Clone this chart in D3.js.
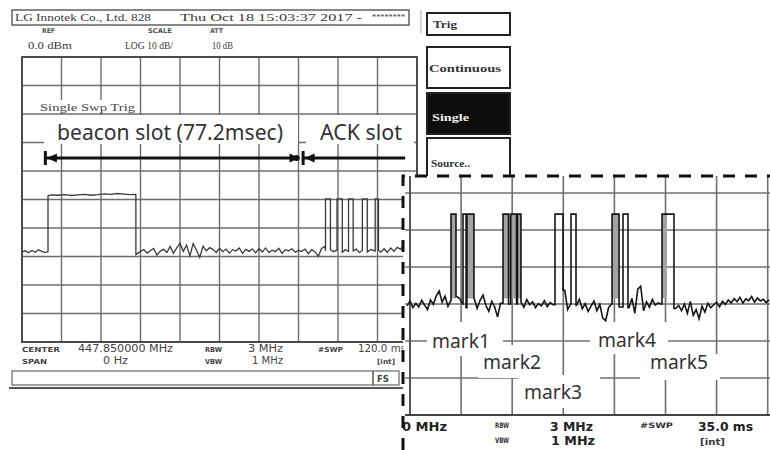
<!DOCTYPE html>
<html><head><meta charset="utf-8">
<script src="https://cdn.jsdelivr.net/npm/d3@7/dist/d3.min.js"></script>
<style>body{margin:0;background:#fff}svg{display:block}</style>
</head><body>
<svg id="c" width="770" height="450"></svg>
<script>
// ---------------- DATA ----------------
const titleTexts = ["LG Innotek Co., Ltd. 828", "Thu Oct 18 15:03:37 2017 -", "********"];
const headerLabels = ["REF", "SCALE", "ATT"];
const headerValues = ["0.0 dBm", "LOG 10 dB/", "10 dB"];
const softKeys = ["Trig", "Continuous", "Single", "Source.."];
const sweepStatus = "Single Swp Trig";
const footerRow1 = ["CENTER", "447.850000 MHz", "RBW", "3 MHz", "#SWP", "120.0 ms"];
const footerRow2 = ["SPAN", "0 Hz", "VBW", "1 MHz", "[int]"];
const statusKey = "FS";
const insetFooterRow1 = ["447.850000 MHz", "RBW", "3 MHz", "#SWP", "35.0 ms"];
const insetFooterRow2 = ["VBW", "1 MHz", "[int]"];
const markLabels = ["mark1", "mark2", "mark3", "mark4", "mark5"];

const mainTimeDomain = [0, 120];     // ms (sweep 120.0 ms)
const levelDomain = [-100, 0];       // dBm, ref 0 dBm, 10 dB/div
const insetTimeDomain = [0, 35];     // ms (sweep 35.0 ms)

const slotLabels = ["beacon slot (77.2msec)", "ACK slot"];
const slotStart = [7.1, 85.4];       // ms
const slotEnd = [84.3, 116.4];       // ms

// main trace [ms, dBm]
const mainTrace = [
 [0,-68.4],[1,-68.0],[2,-68.7],[3,-67.9],[4,-68.5],[5,-67.6],[6,-68.2],[7,-68.6],[7.9,-68.3],
 [7.9,-48.7],[9,-48.4],[11,-48.5],[13,-48.3],[15,-48.6],[17,-48.4],[19,-48.2],[21,-48.5],[23,-48.3],
 [25,-48.0],[27,-48.2],[29,-47.9],[31,-48.1],[33,-48.3],[34.6,-48.2],
 [34.6,-69.3],[35,-69.0],[36,-68.2],[37,-67.6],[38,-68.8],[39,-68.0],[40,-67.2],[41,-69.5],[42,-68.1],
 [43,-67.5],[44,-68.6],[45,-66.5],[46,-68.9],[47,-67.0],[48,-65.4],[49,-68.2],[50,-66.0],[51,-69.8],
 [52,-65.5],[53,-67.8],[54,-70.3],[55,-66.4],[56,-68.0],[57,-66.9],[58,-67.5],[59,-68.6],[60,-67.1],
 [61,-68.3],[62,-67.4],[63,-68.8],[64,-67.6],[65,-68.1],[66,-67.0],[67,-68.9],[68,-67.5],[69,-68.2],
 [70,-67.3],[71,-68.7],[72,-67.2],[73,-68.4],[74,-67.0],[75,-68.6],[76,-67.8],[77,-68.3],[78,-67.1],
 [79,-68.9],[80,-67.6],[81,-68.0],[82,-67.3],[83,-68.5],[84,-67.9],[85,-68.2],[86,-67.4],[87,-69.0],
 [88,-67.6],[89,-68.3],[90,-70.0],[91,-67.2],[92,-66.5],
 [92.2,-68.0],[92.2,-49.8],[93.7,-49.8],[93.7,-67.5],[94.5,-68.3],
 [95.7,-67.8],[95.7,-49.8],[97.3,-49.8],[97.3,-68.5],[98.2,-67.6],
 [99.2,-68.2],[99.2,-49.8],[100.6,-49.8],[100.6,-68.0],[101.5,-67.4],[102.5,-68.6],
 [103.4,-67.9],[103.4,-49.8],[104.9,-49.8],[104.9,-68.4],[106,-67.5],
 [107.3,-68.1],[107.3,-49.8],[108.3,-49.8],[108.3,-67.8],[109,-68.5],[110,-67.3],[111,-68.6],
 [112,-67.0],[113,-68.2],[114,-66.8],[115,-67.5],[116,-65.8],[117,-67.0],[118,-66.2],[119,-67.5],[120,-67.0]
];

// inset trace: noise readings every 0.2 ms, pulses [start ms, end ms]
const insetNoiseStart = -0.2;
const insetNoiseStep = 0.2;
const insetNoise = [
 -70.5,-69.2,-71.0,-69.8,-70.8,-69.0,-70.3,-71.5,-68.9,-70.1,-67.8,-66.5,-69.5,-67.9,-70.6,
 -69.0,-67.5,-68.0,-68.5,-70.0,-69.0,-71.0,-70.0,
 -68.5,-71.2,-69.0,-67.6,-70.4,-72.0,-69.3,-70.8,-73.5,-69.8,
 -70,-70,-70,-70,-70,-70,
 -69.5,-70.9,-68.8,-70.2,-69.4,-71.0,-69.9,-70.5,-69.1,-70.7,-69.6,-70.2,
 -70,-70,
 -69.0,-66.3,-71.5,
 -70,-70,
 -70.4,-68.7,-71.3,-69.9,-72.0,-70.6,-69.2,-71.8,-70.1,-73.8,-74.5,-71.0,
 -70,-70,-69.5,-70.8,-70,-70,
 -71.0,-68.5,-72.5,-66.0,-65.2,-71.8,-69.4,-70.9,-68.8,-70.3,-69.7,
 -70,-70,-70,-70,-70,
 -71.2,-70.4,-71.8,-70.0,-72.5,-69.3,-73.0,-71.5,-74.0,-70.6,-72.2,-69.8,-71.0,-70.2,-69.5,-70.8,
 -69.3,-70.1,-68.9,-69.7,-68.5,-69.4,-68.2,-69.8,-68.6,-69.1,-68.0,-69.5,-68.4,-69.2,-68.7,-69.6,-68.9
];
const insetPulses = [
 [2.81,3.15],[3.63,3.84],[3.90,4.38],
 [6.37,6.75],[6.90,7.30],[7.36,7.60],
 [9.93,10.48],[11.03,11.37],
 [13.84,14.32],[14.59,14.93],
 [17.26,18.08]
];
const insetPulseTop = -45.7;
const insetDenseBands = [[2.81,3.15],[3.90,4.38],[6.37,7.60],[13.84,14.32],[17.26,17.60]];
const insetDenseFloor = -68.5;

// ---------------- DRAW ----------------
const svg = d3.select("#c");
const defs = svg.append("defs");
defs.append("clipPath").attr("id","insetClip").append("rect")
  .attr("x",403).attr("y",176).attr("width",367).attr("height",274);

const xMain = d3.scaleLinear().domain(mainTimeDomain).range([22, 417]);
const yMain = d3.scaleLinear().domain(levelDomain).range([342, 57]);

function txt(g, s, x, y, o = {}) {
  const t = g.append("text").attr("x", x).attr("y", y).text(s)
    .attr("font-family", o.family || "DejaVu Sans")
    .attr("font-size", o.size || 10)
    .attr("font-weight", o.weight || "normal")
    .attr("fill", o.fill || "#3a3a3a");
  if (o.len) t.attr("textLength", o.len).attr("lengthAdjust", "spacingAndGlyphs");
  if (o.anchor) t.attr("text-anchor", o.anchor);
  return t;
}

// ----- main screen -----
const gM = svg.append("g");
gM.append("rect").attr("x",12).attr("y",10).attr("width",397).attr("height",15)
  .attr("fill","none").attr("stroke","#555").attr("stroke-width",1.4);
gM.append("line").attr("x1",421).attr("x2",421).attr("y1",10).attr("y2",33).attr("stroke","#aaa");
txt(gM, titleTexts[0], 15, 21, {size:10, len:136, family:"Liberation Serif"});
txt(gM, titleTexts[1], 180, 21, {size:10, len:182, family:"Liberation Serif"});
txt(gM, titleTexts[2], 372, 20, {size:9, len:33, family:"Liberation Serif"});
[[42,13],[148,24],[210,13]].forEach((p,i)=>txt(gM, headerLabels[i], p[0], 33, {size:6.5, weight:"bold", len:p[1], fill:"#555"}));
[[28,44],[125,48],[212,21]].forEach((p,i)=>txt(gM, headerValues[i], p[0], 49, {size:10, len:p[1], family:"Liberation Serif"}));

// grid
const gridT = d3.range(0, 121, 12), gridL = d3.range(-100, 1, 10);
gM.append("g").selectAll("line").data(gridT).join("line")
  .attr("x1",d=>xMain(d)).attr("x2",d=>xMain(d)).attr("y1",yMain(0)).attr("y2",yMain(-100))
  .attr("stroke","#6e6e6e").attr("stroke-width",1.4);
gM.append("g").selectAll("line").data(gridL).join("line")
  .attr("y1",d=>yMain(d)).attr("y2",d=>yMain(d)).attr("x1",xMain(0)).attr("x2",xMain(120))
  .attr("stroke","#6e6e6e").attr("stroke-width",1.4);
gM.append("rect").attr("x",xMain(0)).attr("y",yMain(0)).attr("width",xMain(120)-xMain(0))
  .attr("height",yMain(-100)-yMain(0)).attr("fill","none").attr("stroke","#444").attr("stroke-width",1.8);

[[38,100,100,12.5],[44,115,254,29],[306,115,108,29]].forEach(b=>
  gM.append("rect").attr("x",b[0]).attr("y",b[1]).attr("width",b[2]).attr("height",b[3]).attr("fill","#fff"));
txt(gM, sweepStatus, 40, 111, {size:10, len:95, family:"Liberation Serif", fill:"#444"});
txt(gM, slotLabels[0], 57, 140, {size:21, family:"Noto Sans", len:226, fill:"#333"});
txt(gM, slotLabels[1], 320, 140, {size:21, family:"Noto Sans", len:82, fill:"#333"});

// slot arrows
const ay = 158;
function arrowHead(g, x, dir) {
  g.append("path").attr("d", `M${x},${ay} L${x+dir*10},${ay-4.5} L${x+dir*10},${ay+4.5} Z`).attr("fill","#111");
}
const gA = gM.append("g");
slotStart.forEach((s,i)=>{
  const x0 = xMain(s), x1 = xMain(slotEnd[i]);
  gA.append("line").attr("x1",x0).attr("x2",x1).attr("y1",ay).attr("y2",ay).attr("stroke","#111").attr("stroke-width",3);
  gA.append("line").attr("x1",x0).attr("x2",x0).attr("y1",ay-7).attr("y2",ay+7).attr("stroke","#111").attr("stroke-width",3);
  arrowHead(gA, x0+1.5, 1);
  if (i === 0) { arrowHead(gA, x1, -1); gA.append("circle").attr("cx",x1-3).attr("cy",ay).attr("r",3).attr("fill","#111"); }
});

// main trace
gM.append("path").datum(mainTrace)
  .attr("d", d3.line().x(d=>xMain(d[0])).y(d=>yMain(d[1])))
  .attr("fill","none").attr("stroke","#3a3a3a").attr("stroke-width",1.3);

// footer
const r1 = [[22,38,7,true],[78,95,11,false],[205,17,7,true],[248,35,11,false],[318,25,7,true],[358,48,11,false]];
r1.forEach((p,i)=>txt(gM, footerRow1[i], p[0], 352, {size:p[2], weight:p[3]?"bold":"normal", len:p[1], fill:"#444"}));
const r2 = [[22,25,7,true],[103,25,11,false],[205,17,7,true],[252,31,11,false],[377,18,7,true]];
r2.forEach((p,i)=>txt(gM, footerRow2[i], p[0], 364, {size:p[2], weight:p[3]?"bold":"normal", len:p[1], fill:"#444"}));
gM.append("rect").attr("x",12).attr("y",371).attr("width",361).attr("height",14).attr("fill","none").attr("stroke","#666").attr("stroke-width",1.2);
gM.append("rect").attr("x",373).attr("y",371).attr("width",26).attr("height",14).attr("fill","none").attr("stroke","#666").attr("stroke-width",1.2);
txt(gM, statusKey, 377, 382, {size:8, weight:"bold", len:12, fill:"#444"});
gM.append("line").attr("x1",9).attr("x2",403).attr("y1",388).attr("y2",388).attr("stroke","#555").attr("stroke-width",2.2);

// soft keys
const keyBoxes = [[13,35],[47,88],[93,134],[138,200]];
const keyText = [[433,28,24],[429,72,72],[432,121,37],[431,167,39]];
keyBoxes.forEach((b,i)=>{
  gM.append("rect").attr("x",427).attr("y",b[0]).attr("width",83).attr("height",b[1]-b[0])
    .attr("fill", i===2 ? "#0d0d0d" : "#fff").attr("stroke","#222").attr("stroke-width",2);
  txt(gM, softKeys[i], keyText[i][0], keyText[i][1], {size:11, weight:"bold", family:"Liberation Serif", len:keyText[i][2], fill: i===2 ? "#eee" : "#333"});
});

// ----- inset (zoomed view) -----
const xIn = d3.scaleLinear().domain(insetTimeDomain).range([410, 921]);
const yIn = d3.scaleLinear().domain(levelDomain).range([415, 45]);
const gI = svg.append("g").attr("clip-path","url(#insetClip)");
gI.append("rect").attr("x",403).attr("y",176).attr("width",367).attr("height",274).attr("fill","#fff");
const inT = d3.range(0, 35.01, 3.5), inL = d3.range(-90, 1, 10);
gI.append("g").selectAll("line").data(inT).join("line")
  .attr("x1",d=>xIn(d)).attr("x2",d=>xIn(d)).attr("y1",176).attr("y2",yIn(-100))
  .attr("stroke","#707070").attr("stroke-width",1.6);
gI.append("g").selectAll("line").data(inL).join("line")
  .attr("y1",d=>yIn(d)).attr("y2",d=>yIn(d)).attr("x1",405).attr("x2",770)
  .attr("stroke","#707070").attr("stroke-width",1.6);
gI.append("line").attr("x1",xIn(0)).attr("x2",xIn(0)).attr("y1",176).attr("y2",yIn(-100)).attr("stroke","#555").attr("stroke-width",2);
gI.append("line").attr("x1",405).attr("x2",770).attr("y1",yIn(-100)).attr("y2",yIn(-100)).attr("stroke","#444").attr("stroke-width",2.2);

const markBoxes = [[427,322,76,34],[478,345,72,33],[518,375,82,33],[590,322,78,32],[640,354,80,26]];
markBoxes.forEach(b=>gI.append("rect").attr("x",b[0]).attr("y",b[1]).attr("width",b[2]).attr("height",b[3]).attr("fill","#fff"));
const markPos = [[432,348],[483,369],[524,399],[598,347],[650,369]];
markLabels.forEach((m,i)=>txt(gI, m, markPos[i][0], markPos[i][1], {size:20, family:"Noto Sans", len:58, fill:"#333"}));

// dense (rapidly toggling) bands
gI.append("g").selectAll("rect").data(insetDenseBands).join("rect")
  .attr("x",d=>xIn(d[0])).attr("width",d=>xIn(d[1])-xIn(d[0]))
  .attr("y",yIn(insetPulseTop)).attr("height",yIn(insetDenseFloor)-yIn(insetPulseTop))
  .attr("fill","#a3a3a3");

// inset trace from noise readings + pulses
const pulses = insetPulses.slice().sort((a,b)=>a[0]-b[0]);
const pts = [];
let pi = 0;
for (let i = 0; i < insetNoise.length; i++) {
  const t = insetNoiseStart + i * insetNoiseStep;
  while (pi < pulses.length && pulses[pi][0] <= t) {
    const [t0, t1] = pulses[pi];
    const before = pts.length ? pts[pts.length-1][1] : insetNoise[0];
    const j = Math.min(insetNoise.length-1, Math.ceil((t1 - insetNoiseStart) / insetNoiseStep));
    pts.push([t0, before], [t0, insetPulseTop], [t1, insetPulseTop], [t1, insetNoise[j]]);
    pi++;
  }
  if (pulses.some(p => t >= p[0] && t <= p[1])) continue;
  pts.push([t, insetNoise[i]]);
}
gI.append("path").datum(pts)
  .attr("d", d3.line().x(d=>xIn(d[0])).y(d=>yIn(d[1])))
  .attr("fill","none").attr("stroke","#161616").attr("stroke-width",1.6);

// inset footer
txt(gI, insetFooterRow1[0], 447, 431, {size:13, weight:"bold", anchor:"end", fill:"#222"});
txt(gI, insetFooterRow1[1], 495, 428, {size:7.5, weight:"bold", len:14, fill:"#333"});
txt(gI, insetFooterRow1[2], 550, 431, {size:13, weight:"bold", len:43, fill:"#222"});
txt(gI, insetFooterRow1[3], 640, 428, {size:7.5, weight:"bold", len:33, fill:"#333"});
txt(gI, insetFooterRow1[4], 698, 431, {size:13, weight:"bold", len:55, fill:"#222"});
txt(gI, insetFooterRow2[0], 495, 443, {size:7.5, weight:"bold", len:14, fill:"#333"});
txt(gI, insetFooterRow2[1], 551, 445, {size:13, weight:"bold", len:44, fill:"#222"});
txt(gI, insetFooterRow2[2], 700, 445, {size:9, weight:"bold", len:25, fill:"#333"});

// dashed border
svg.append("path").attr("d","M403,450 V176 H770").attr("fill","none")
  .attr("stroke","#111").attr("stroke-width",3).attr("stroke-dasharray","12 10");
</script>
</body></html>
